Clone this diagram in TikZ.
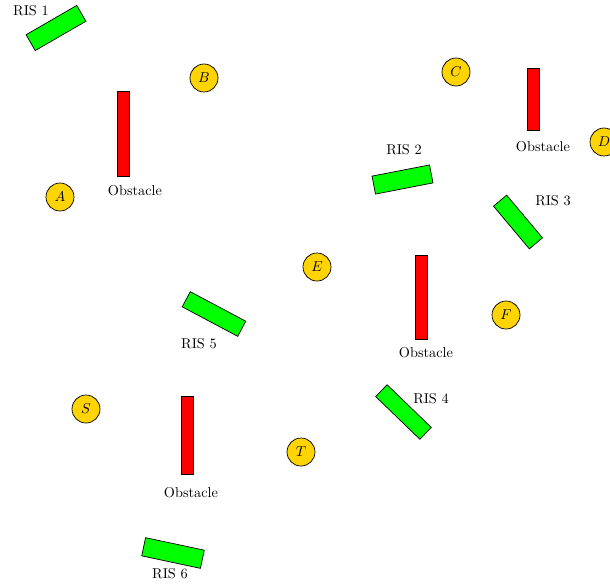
\documentclass[tikz,border=0pt]{standalone}
\definecolor{usergold}{RGB}{255,212,0}
\begin{document}
\begin{tikzpicture}[x=0.7pt,y=-0.7pt,
  ris/.style={draw=black,fill=green,line width=0.5pt,minimum width=41pt,minimum height=12.8pt,inner sep=0pt},
  obst/.style={draw=black,fill=red,line width=0.5pt,minimum width=8.4pt,inner sep=0pt},
  usr/.style={circle,draw=black,fill=usergold,line width=0.5pt,minimum size=19.6pt,inner sep=0pt},
  lbl/.style={inner sep=0pt}]
\useasboundingbox (0,0) rectangle (610,586);
% obstacles
\node[obst,minimum height=59.5pt] (o1) at (123,133.5) {};
\node[obst,minimum height=43pt] (o2) at (533,99.5) {};
\node[obst,minimum height=58.5pt] (o3) at (421,297.5) {};
\node[obst,minimum height=54.5pt] (o4) at (187.5,435) {};
\node[lbl] (lo1) at (135,191) {Obstacle};
\node[lbl] (lo2) at (543,147) {Obstacle};
\node[lbl] (lo3) at (426,353) {Obstacle};
\node[lbl] (lo4) at (191,493) {Obstacle};
% RIS
\node[ris,rotate=30] (r1) at (56,28) {};
\node[ris,rotate=11] (r2) at (402.5,179.5) {};
\node[ris,rotate=-50,minimum width=39pt,minimum height=12pt] (r3) at (518,222) {};
\node[ris,rotate=-44,minimum width=43pt,minimum height=11.5pt] (r4) at (403.5,412) {};
\node[ris,rotate=-28,minimum width=44pt,minimum height=12pt] (r5) at (214,314) {};
\node[ris,rotate=-12,minimum width=42pt,minimum height=13pt] (r6) at (173,553) {};
\node[lbl] (lr1) at (31,11) {RIS 1};
\node[lbl] (lr2) at (404,150) {RIS 2};
\node[lbl] (lr3) at (553,201) {RIS 3};
\node[lbl] (lr4) at (431,399) {RIS 4};
\node[lbl] (lr5) at (199,344) {RIS 5};
\node[lbl] (lr6) at (170,574) {RIS 6};
% users
\node[usr] (A) at (60,197) {$A$};
\node[usr] (B) at (204,78) {$B$};
\node[usr] (C) at (456,72) {$C$};
\node[usr] (D) at (604,142) {$D$};
\node[usr] (E) at (317,267) {$E$};
\node[usr] (F) at (506,315) {$F$};
\node[usr] (S) at (86,409) {$S$};
\node[usr] (T) at (301,452) {$T$};
\end{tikzpicture}
\end{document}
